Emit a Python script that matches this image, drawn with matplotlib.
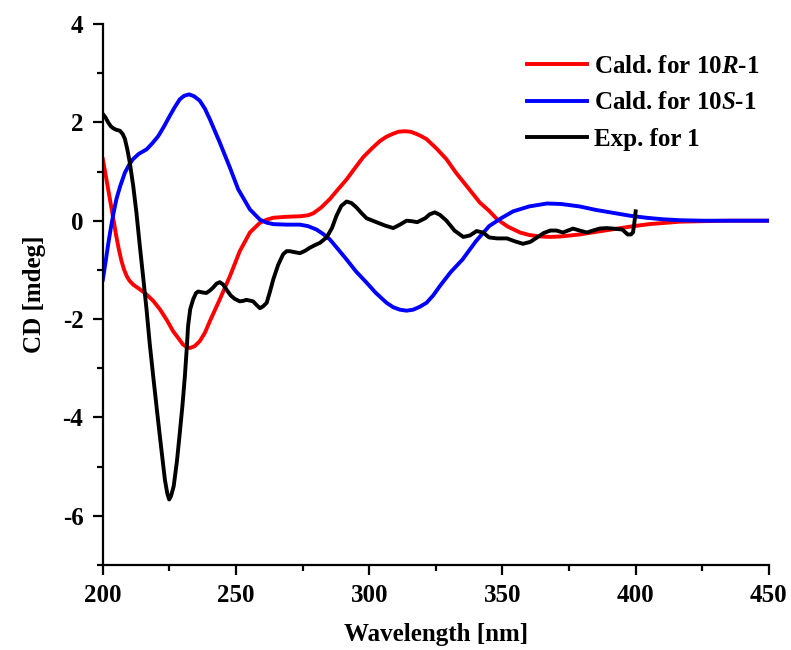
import matplotlib
matplotlib.use("Agg")
import matplotlib.pyplot as plt
from matplotlib.ticker import MultipleLocator

plt.rcParams['font.family'] = ['Liberation Serif', 'DejaVu Serif']
plt.rcParams['font.weight'] = 'bold'
plt.rcParams['mathtext.fontset'] = 'custom'
plt.rcParams['mathtext.it'] = 'Liberation Serif:italic:bold'
plt.rcParams['mathtext.rm'] = 'Liberation Serif:bold'
plt.rcParams['axes.unicode_minus'] = False

# Calculated ECD for 10R-1
wl_r = [200, 201, 202, 203, 204, 205, 206, 207, 208, 209, 210, 211.4, 214, 216.4,
        218.9, 221.4, 224, 226.4, 228.5, 230.1, 231.5, 232.7, 234.5, 236.4, 238.3,
        240.2, 243.9, 247.7, 251.4, 255.2, 259, 261.5, 264, 269, 274, 277, 279, 282,
        285.2, 288, 291.5, 294.5, 297.7, 301, 304, 306.5, 309, 311, 313.4, 315.5,
        317.5, 319.5, 321.5, 325.4, 329, 332.5, 336.5, 341.5, 345, 348, 352, 356.6,
        360, 364, 368, 372, 379, 386, 392, 398, 405, 416.6, 425, 435, 450]
cd_r = [1.25, 0.95, 0.64, 0.33, 0.02, -0.3, -0.58, -0.82, -1.0, -1.13, -1.22, -1.3, -1.4, -1.5,
        -1.63, -1.8, -2.02, -2.25, -2.4, -2.52, -2.57, -2.59, -2.55, -2.45, -2.28,
        -2.04, -1.6, -1.13, -0.62, -0.24, -0.04, 0.02, 0.06, 0.08, 0.09, 0.11, 0.15, 0.27,
        0.44, 0.62, 0.84, 1.06, 1.29, 1.47, 1.62, 1.71, 1.77, 1.81, 1.82, 1.81,
        1.77, 1.72, 1.66, 1.46, 1.25, 0.98, 0.71, 0.37, 0.2, 0.03, -0.12, -0.24,
        -0.29, -0.32, -0.33, -0.32, -0.28, -0.22, -0.17, -0.12, -0.07, -0.02,
        -0.01, 0.0, 0.0]

# Calculated ECD for 10S-1
wl_s = [200, 201, 202, 203, 204, 205.1, 206.5, 208.3, 210, 211.3, 213.5, 216.4,
        218.5, 220.8, 223, 225.1, 227, 228.9, 230.5, 232.4, 234.3, 236.4, 238.3,
        240.2, 243.9, 247.7, 250.8, 255.2, 259, 261.5, 264, 269, 274, 277, 280.2,
        282.7, 285.2, 288, 291.5, 295, 299, 302.5, 306.5, 309, 311.5, 314, 316.5,
        319, 321.5, 324, 326.5, 330.5, 335, 340, 345, 349.5, 354, 360, 366.7, 372,
        379, 385, 391.5, 398, 404, 410, 416.6, 425, 435, 450]
cd_s = [-1.2, -0.85, -0.48, -0.15, 0.15, 0.44, 0.7, 0.98, 1.15, 1.25, 1.36, 1.45,
        1.57, 1.72, 1.92, 2.13, 2.31, 2.47, 2.54, 2.57, 2.53, 2.44, 2.28,
        2.06, 1.59, 1.08, 0.64, 0.23, 0.02, -0.04, -0.07, -0.08, -0.08, -0.11, -0.18,
        -0.27, -0.38, -0.56, -0.79, -1.03, -1.26, -1.47, -1.67, -1.76, -1.81, -1.83, -1.81,
        -1.75, -1.67, -1.52, -1.33, -1.05, -0.79, -0.42, -0.11, 0.05, 0.19, 0.29, 0.35, 0.34,
        0.29, 0.22, 0.16, 0.1, 0.06, 0.03, 0.01, 0.0, 0.0, 0.0]

# Experimental ECD of 1
wl_e = [200, 201, 202, 203, 203.9, 205, 206.4, 207.5, 208.3, 209.2, 210.1, 211.4,
        212.6, 213.9, 215.1, 216.4, 217.6, 218.9, 220.2, 221.4, 222.4, 223.3, 224.2,
        224.9, 225.6, 226.6, 227.8, 228.9, 229.9, 230.8, 231.5, 232, 232.8, 233.9,
        235, 235.8, 237.5, 238.9, 240.2, 241.4, 242.7, 243.9, 245.2, 246.4, 248,
        249.5, 251.4, 252.7, 253.9, 256.4, 257.8, 259, 260.2, 261.5, 262.7, 264,
        265.8, 267.7, 269, 270.2, 272, 274, 276, 277.7, 279.5, 281.5, 284, 286,
        287.7, 289.5, 291.5, 293.3, 295.2, 297, 299, 302.7, 306, 309, 311.5, 314,
        316, 318, 321, 322.7, 324.6, 326.5, 329, 332, 335.3, 337.8, 340.3, 342.7,
        345, 348, 351.7, 354.7, 357.7, 360.5, 363, 365.5, 368, 370.3, 372.7, 374.6,
        376.5, 379, 381.7, 384, 386.5, 389, 391.5, 395, 397, 398.2, 399, 399.5, 400]
cd_e = [2.17, 2.1, 2.0, 1.92, 1.88, 1.85, 1.83, 1.76, 1.66, 1.45, 1.19, 0.71,
        0.17, -0.52, -1.13, -1.8, -2.5, -3.16, -3.8, -4.38, -4.85, -5.27, -5.55,
        -5.67, -5.6, -5.4, -4.9, -4.31, -3.75, -3.16, -2.6, -2.14, -1.8, -1.6,
        -1.47, -1.44, -1.46, -1.47, -1.42, -1.36, -1.28, -1.25, -1.3, -1.4, -1.52,
        -1.59, -1.64, -1.63, -1.61, -1.64, -1.72, -1.78, -1.74, -1.67, -1.45, -1.19,
        -0.9, -0.68, -0.62, -0.62, -0.64, -0.66, -0.61, -0.55, -0.5, -0.45, -0.34, -0.15,
        0.1, 0.3, 0.39, 0.36, 0.27, 0.16, 0.05, -0.03, -0.1, -0.15, -0.08, 0.0,
        -0.01, -0.03, 0.05, 0.13, 0.17, 0.12, 0.0, -0.2, -0.33, -0.3, -0.21, -0.24,
        -0.34, -0.36, -0.36, -0.42, -0.47, -0.43, -0.34, -0.25, -0.2, -0.2, -0.24, -0.2,
        -0.16, -0.2, -0.24, -0.2, -0.16, -0.15, -0.16, -0.18, -0.28, -0.28, -0.24, -0.05, 0.19]

fig = plt.figure(figsize=(7.91, 6.5), dpi=100)
ax = fig.add_axes([0.130, 0.131, 0.842, 0.832])

ax.plot(wl_r, cd_r, color='#ff0000', lw=2.8, label=r'Cald. for 10$\mathit{R}$-1')
ax.plot(wl_s, cd_s, color='#0000ff', lw=2.8, label=r'Cald. for 10$\mathit{S}$-1')
ax.plot(wl_e, cd_e, color='black', lw=2.8, label='Exp. for 1')

ax.set_xlim(200, 450)
ax.set_ylim(-7, 4)
ax.xaxis.set_major_locator(MultipleLocator(50))
ax.xaxis.set_minor_locator(MultipleLocator(25))
ax.yaxis.set_major_locator(MultipleLocator(2))
ax.yaxis.set_minor_locator(MultipleLocator(1))

for side in ['top', 'right']:
    ax.spines[side].set_visible(False)
for side in ['left', 'bottom']:
    ax.spines[side].set_linewidth(1.6)

ax.tick_params(which='major', direction='out', length=7, width=1.6, labelsize=18, pad=7)
ax.tick_params(which='minor', direction='out', length=4, width=1.6)
for lab in ax.get_xticklabels() + ax.get_yticklabels():
    lab.set_fontweight('bold')

ax.set_xlabel('Wavelength [nm]', fontsize=18, fontweight='bold', labelpad=11)
ax.set_ylabel('CD [mdeg]', fontsize=18, fontweight='bold', labelpad=12)

ax.legend(loc='upper right', bbox_to_anchor=(1.02, 0.985), frameon=False,
          prop={'size': 18, 'weight': 'bold'}, handlelength=2.4,
          handletextpad=0.3, labelspacing=0.55)

fig.savefig('out.png', dpi=100)
